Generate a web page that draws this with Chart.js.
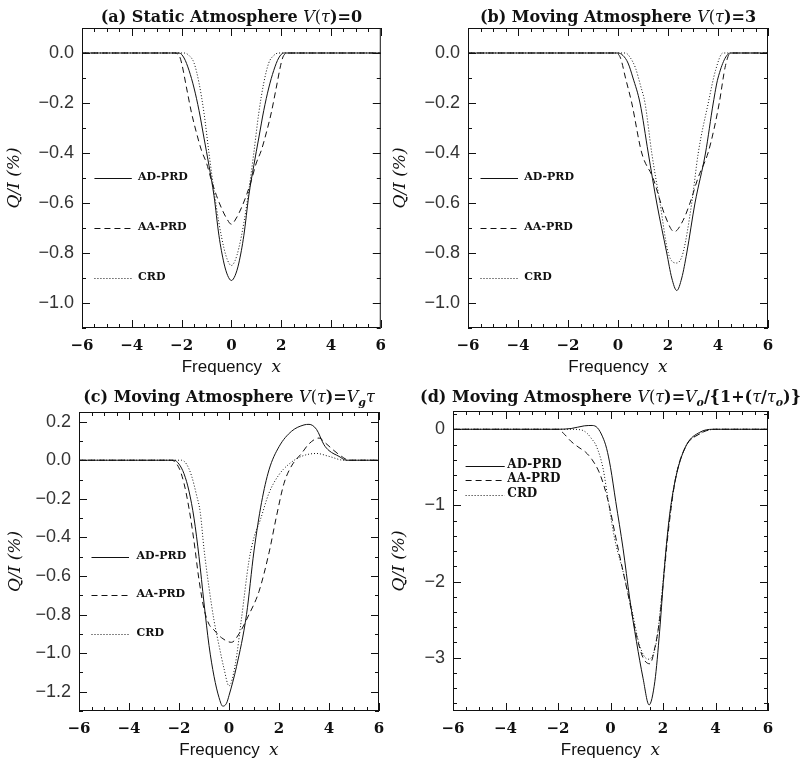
<!DOCTYPE html>
<html>
<head>
<title>Q/I profiles</title>
<script src="https://cdn.jsdelivr.net/npm/chart.js"></script>
<style>
    body { margin: 0; background: #fff; }
    #wrap { position: relative; width: 809px; height: 761px; overflow: hidden; }
    canvas { position: absolute; }
</style>
</head>
<body>
<div id="wrap">
    <canvas id="pa"></canvas>
    <canvas id="pb"></canvas>
    <canvas id="pc"></canvas>
    <canvas id="pd"></canvas>
</div>
<script>
// tick labels
const xTicks = [-6, -4, -2, 0, 2, 4, 6];
const yTicksAB = [0.0, -0.2, -0.4, -0.6, -0.8, -1.0];
const yTicksC = [0.2, 0.0, -0.2, -0.4, -0.6, -0.8, -1.0, -1.2];
const yTicksD = [0, -1, -2, -3];
const seriesNames = ['AD-PRD', 'AA-PRD', 'CRD'];

// (a) static atmosphere
const aAdX = [-6, -2.1, -1.9, -1.7, -1.5, -1.3, -1.1, -0.9, -0.7, -0.5, -0.3, -0.15, 0, 0.15, 0.3, 0.5, 0.7, 0.9, 1.1, 1.3, 1.5, 1.7, 1.9, 2.1, 6];
const aAdY = [0, 0, -0.02, -0.07, -0.14, -0.23, -0.34, -0.45, -0.57, -0.73, -0.84, -0.89, -0.91, -0.89, -0.84, -0.73, -0.57, -0.45, -0.34, -0.23, -0.14, -0.07, -0.02, 0, 0];
const aAaX = [-6, -2.3, -2.1, -2.0, -1.8, -1.6, -1.4, -1.2, -1.0, -0.8, -0.6, -0.4, -0.2, 0, 0.2, 0.4, 0.6, 0.8, 1.0, 1.2, 1.4, 1.6, 1.8, 2.0, 2.1, 2.3, 6];
const aAaY = [0, 0, -0.01, -0.04, -0.14, -0.24, -0.32, -0.39, -0.44, -0.51, -0.57, -0.62, -0.66, -0.685, -0.66, -0.62, -0.57, -0.51, -0.44, -0.39, -0.32, -0.24, -0.14, -0.04, -0.01, 0, 0];
const aCrdX = [-6, -1.9, -1.7, -1.5, -1.3, -1.1, -0.9, -0.7, -0.5, -0.3, -0.15, 0, 0.15, 0.3, 0.5, 0.7, 0.9, 1.1, 1.3, 1.5, 1.7, 1.9, 6];
const aCrdY = [0, 0, -0.01, -0.04, -0.12, -0.24, -0.40, -0.55, -0.68, -0.78, -0.83, -0.85, -0.83, -0.78, -0.68, -0.55, -0.40, -0.24, -0.12, -0.04, -0.01, 0, 0];

// (b) V = 3
const bAdX = [-6, 0.0, 0.2, 0.4, 0.6, 0.88, 1.21, 1.55, 1.95, 2.15, 2.35, 2.55, 2.75, 3.08, 3.5, 3.81, 4.0, 4.5, 6];
const bAdY = [0, 0, -0.01, -0.04, -0.1, -0.2, -0.4, -0.6, -0.8, -0.9, -0.95, -0.9, -0.8, -0.6, -0.4, -0.2, -0.1, 0, 0];
const bAaX = [-6, -0.1, 0.1, 0.3, 0.55, 0.95, 1.4, 1.88, 2.25, 2.6, 2.88, 3.2, 3.6, 3.85, 4.05, 4.3, 4.5, 6];
const bAaY = [0, 0, -0.02, -0.1, -0.2, -0.4, -0.5, -0.65, -0.715, -0.67, -0.6, -0.5, -0.4, -0.3, -0.2, -0.05, 0, 0];
const bCrdX = [-6, 0.3, 0.5, 0.7, 0.9, 1.08, 1.35, 1.68, 2.01, 2.35, 2.6, 2.95, 3.21, 3.61, 3.9, 4.2, 6];
const bCrdY = [0, 0, -0.02, -0.06, -0.13, -0.2, -0.4, -0.6, -0.8, -0.84, -0.8, -0.6, -0.4, -0.2, -0.07, 0, 0];

// (c) V = Vg tau
const cAdX = [-6, -2.2, -2.0, -1.8, -1.6, -1.4, -1.2, -1.0, -0.8, -0.6, -0.4, -0.25, -0.1, 0.0, 0.3, 0.7, 1.0, 1.3, 1.6, 2.0, 2.5, 3.0, 3.2, 3.5, 3.8, 4.0, 4.4, 4.7, 6];
const cAdY = [0, 0, -0.02, -0.07, -0.16, -0.30, -0.50, -0.74, -0.96, -1.12, -1.23, -1.275, -1.26, -1.22, -1.07, -0.80, -0.47, -0.22, -0.05, 0.07, 0.15, 0.183, 0.186, 0.16, 0.08, 0.05, 0.02, 0, 0];
const cAaX = [-6, -2.3, -2.0, -1.8, -1.6, -1.4, -1.2, -1.0, -0.8, -0.6, -0.3, 0.1, 0.4, 0.8, 1.2, 1.6, 1.9, 2.2, 2.5, 2.9, 3.2, 3.6, 3.85, 4.2, 4.5, 4.8, 6];
const cAaY = [0, 0, -0.04, -0.12, -0.25, -0.42, -0.62, -0.77, -0.85, -0.88, -0.92, -0.944, -0.90, -0.80, -0.68, -0.48, -0.29, -0.12, -0.03, 0.035, 0.085, 0.115, 0.09, 0.05, 0.02, 0, 0];
const cCrdX = [-6, -1.9, -1.7, -1.5, -1.3, -1.15, -1.0, -0.8, -0.6, -0.4, -0.2, 0.0, 0.25, 0.5, 0.8, 1.0, 1.25, 1.6, 2.0, 2.4, 2.9, 3.5, 4.0, 4.6, 6];
const cCrdY = [0, 0, -0.02, -0.08, -0.18, -0.27, -0.46, -0.66, -0.83, -0.96, -1.08, -1.17, -1.06, -0.82, -0.52, -0.40, -0.31, -0.17, -0.075, -0.02, 0.02, 0.035, 0.02, 0, 0];

// (d) V = V0/(1+tau/tau0)
const dAdX = [-6, -2.0, -1.5, -1.0, -0.7, -0.5, -0.3, -0.15, 0.0, 0.2, 0.48, 0.73, 0.99, 1.24, 1.47, 1.69, 1.87, 2.06, 2.25, 2.51, 2.89, 3.4, 3.9, 6];
const dAdY = [0, 0, 0.01, 0.045, 0.05, 0.02, -0.1, -0.25, -0.5, -0.95, -1.57, -2.22, -2.79, -3.27, -3.62, -3.31, -2.66, -1.79, -1.13, -0.60, -0.21, -0.04, 0, 0];
const dAaX = [-6, -2.0, -1.8, -1.5, -1.2, -0.95, -0.7, -0.45, -0.25, -0.05, 0.2, 0.48, 0.73, 0.99, 1.24, 1.5, 1.7, 1.87, 2.0, 2.2, 2.45, 2.83, 3.4, 4.0, 6];
const dAaY = [0, 0, -0.05, -0.16, -0.24, -0.30, -0.40, -0.55, -0.74, -1.0, -1.42, -1.87, -2.27, -2.71, -3.0, -3.08, -2.85, -2.5, -2.05, -1.35, -0.70, -0.25, -0.06, 0, 0];
const dCrdX = [-6, -1.5, -1.1, -0.9, -0.73, -0.54, -0.28, -0.1, 0.16, 0.48, 0.8, 1.11, 1.43, 1.75, 2.0, 2.19, 2.45, 2.83, 3.4, 4.0, 6];
const dCrdY = [0, 0, -0.01, -0.05, -0.12, -0.22, -0.52, -0.91, -1.44, -1.87, -2.35, -2.84, -3.02, -2.79, -2.0, -1.35, -0.69, -0.25, -0.06, 0, 0];

const dashes = [[], [6, 4], [1, 2]];
const SERIF = '"DejaVu Serif"';
const B = 'bold 16px ' + SERIF, I = 'italic 16px ' + SERIF, R = '16px ' + SERIF;
const SUB = 'italic bold 11px ' + SERIF;

const panels = [
    { id: 'pa', left: 0, top: 0, w: 395, h: 380, yw: 82, padTop: 28, padRight: 13, xh: 52,
      yMin: -1.1, yMax: 0.1, yTicks: yTicksAB, yMinor: 0.1, dec: 1, yTitleX: 15,
      legY: [-0.5, -0.7, -0.9], legX: [-5.5, -4.0], legTextX: -3.75, legSize: 11,
      title: [['(a) Static Atmosphere ', B], ['V', I], ['(', R], ['τ', I], [')=0', B]],
      series: [[aAdX, aAdY], [aAaX, aAaY], [aCrdX, aCrdY]] },
    { id: 'pb', left: 390, top: 0, w: 419, h: 380, yw: 78, padTop: 28, padRight: 41, xh: 52,
      yMin: -1.1, yMax: 0.1, yTicks: yTicksAB, yMinor: 0.1, dec: 1, yTitleX: 11,
      legY: [-0.5, -0.7, -0.9], legX: [-5.5, -4.0], legTextX: -3.75, legSize: 11,
      title: [['(b) Moving Atmosphere ', B], ['V', I], ['(', R], ['τ', I], [')=3', B]],
      series: [[bAdX, bAdY], [bAaX, bAaY], [bCrdX, bCrdY]] },
    { id: 'pc', left: 0, top: 380, w: 395, h: 381, yw: 79, padTop: 32, padRight: 16, xh: 50,
      yMin: -1.3, yMax: 0.25, yTicks: yTicksC, yMinor: 0.1, dec: 1, yTitleX: 16,
      legY: [-0.5, -0.7, -0.9], legX: [-5.5, -4.0], legTextX: -3.7, legSize: 11,
      title: [['(c) Moving Atmosphere ', B], ['V', I], ['(', R], ['τ', I], [')=', B], ['V', I], ['g', SUB, 4], ['τ', I]],
      series: [[cAdX, cAdY], [cAaX, cAaY], [cCrdX, cCrdY]] },
    { id: 'pd', left: 390, top: 380, w: 419, h: 381, yw: 63, padTop: 31, padRight: 41, xh: 50,
      yMin: -3.7, yMax: 0.24, yTicks: yTicksD, yMinor: 0.2, dec: 0, yTitleX: 10,
      legY: [-0.48, -0.66, -0.86], legX: [-5.52, -4.03], legTextX: -3.93, legSize: 12,
      title: [['(d) Moving Atmosphere ', B], ['V', I], ['(', R], ['τ', I], [')=', B], ['V', I], ['o', SUB, 4],
              ['/{1+(', B], ['τ', I], ['/', B], ['τ', I], ['o', SUB, 4], [')}', B]],
      series: [[dAdX, dAdY], [dAaX, dAaY], [dCrdX, dCrdY]] }
];

function fmt(v, dec) {
    return (v < 0 ? '\u2212' : '') + Math.abs(v).toFixed(dec);
}

function drawParts(ctx, parts, cx, y) {
    let total = 0;
    const widths = parts.map(p => { ctx.font = p[1]; const w = ctx.measureText(p[0]).width; total += w; return w; });
    let x = cx - total / 2;
    ctx.textAlign = 'left';
    ctx.textBaseline = 'alphabetic';
    parts.forEach((p, i) => {
        ctx.font = p[1];
        ctx.fillText(p[0], x, y + (p[2] || 0));
        x += widths[i];
    });
}

function boxPlugin(p) {
    return {
        id: 'box' + p.id,
        afterDatasetsDraw(chart) {
            const ctx = chart.ctx, a = chart.chartArea, xs = chart.scales.x, ys = chart.scales.y;
            ctx.save();
            ctx.strokeStyle = '#111';
            ctx.lineWidth = 1;
            ctx.setLineDash([]);
            ctx.strokeRect(a.left + 0.5, a.top + 0.5, a.right - a.left - 1, a.bottom - a.top - 1);

            // inward ticks on all four sides
            ctx.beginPath();
            for (let k = -12; k <= 12; k++) {
                const v = k * 0.5;
                const len = k % 4 === 0 ? 8 : 4;
                const px = Math.round(xs.getPixelForValue(v)) + 0.5;
                ctx.moveTo(px, a.bottom); ctx.lineTo(px, a.bottom - len);
                ctx.moveTo(px, a.top); ctx.lineTo(px, a.top + len);
            }
            const majorStep = p.yTicks[0] - p.yTicks[1];
            const n0 = Math.ceil(p.yMin / p.yMinor - 1e-6), n1 = Math.floor(p.yMax / p.yMinor + 1e-6);
            for (let k = n0; k <= n1; k++) {
                const v = k * p.yMinor;
                const r = v / majorStep;
                const len = Math.abs(r - Math.round(r)) < 1e-6 ? 8 : 4;
                const py = Math.round(ys.getPixelForValue(v)) + 0.5;
                ctx.moveTo(a.left, py); ctx.lineTo(a.left + len, py);
                ctx.moveTo(a.right, py); ctx.lineTo(a.right - len, py);
            }
            ctx.stroke();

            // legend inside the frame
            ctx.fillStyle = '#111';
            ctx.font = 'bold ' + p.legSize + 'px ' + SERIF;
            ctx.textAlign = 'left';
            ctx.textBaseline = 'alphabetic';
            seriesNames.forEach((name, i) => {
                const yy = Math.round(ys.getPixelForValue(p.legY[i])) + 0.5;
                ctx.setLineDash(dashes[i]);
                ctx.beginPath();
                ctx.moveTo(xs.getPixelForValue(p.legX[0]), yy);
                ctx.lineTo(xs.getPixelForValue(p.legX[1]), yy);
                ctx.stroke();
                ctx.fillText(name, xs.getPixelForValue(p.legTextX), yy + 1);
            });
            ctx.setLineDash([]);

            // titles
            const cx = (a.left + a.right) / 2;
            drawParts(ctx, p.title, cx, 22);
            drawParts(ctx, [['Frequency', '17px "Liberation Sans"'], ['  ', '17px "Liberation Sans"'], ['x', 'italic 17px ' + SERIF]], cx, a.bottom + 44);

            ctx.translate(p.yTitleX, (a.top + a.bottom) / 2);
            ctx.rotate(-Math.PI / 2);
            ctx.font = 'italic 17px ' + SERIF;
            ctx.textAlign = 'center';
            ctx.textBaseline = 'middle';
            ctx.fillText('Q/I (%)', 0, 0);
            ctx.restore();
        }
    };
}

panels.forEach(p => {
    const cv = document.getElementById(p.id);
    cv.width = p.w;
    cv.height = p.h;
    cv.style.left = p.left + 'px';
    cv.style.top = p.top + 'px';

    new Chart(cv, {
        type: 'line',
        data: {
            datasets: p.series.map((s, i) => ({
                label: seriesNames[i],
                data: s[0].map((xv, k) => ({ x: xv, y: s[1][k] })),
                borderColor: '#111',
                borderWidth: 1,
                borderDash: dashes[i],
                pointRadius: 0,
                cubicInterpolationMode: 'monotone',
                fill: false
            }))
        },
        options: {
            responsive: false,
            animation: false,
            layout: { padding: { top: p.padTop, right: p.padRight, left: 0, bottom: 0 } },
            plugins: { legend: { display: false }, tooltip: { enabled: false } },
            scales: {
                x: {
                    type: 'linear', min: -6, max: 6,
                    grid: { display: false, drawTicks: false },
                    border: { display: false },
                    afterBuildTicks: s => { s.ticks = xTicks.map(v => ({ value: v })); },
                    afterFit: s => { s.height = p.xh; },
                    ticks: {
                        padding: 9, autoSkip: false, maxRotation: 0, color: '#111',
                        font: { family: 'DejaVu Serif', weight: 'bold', size: 15 },
                        callback: v => fmt(v, 0)
                    }
                },
                y: {
                    type: 'linear', min: p.yMin, max: p.yMax,
                    grid: { display: false, drawTicks: false },
                    border: { display: false },
                    afterBuildTicks: s => { s.ticks = p.yTicks.map(v => ({ value: v })); },
                    afterFit: s => { s.width = p.yw; },
                    ticks: {
                        padding: 8, autoSkip: false, color: '#333',
                        font: { family: 'Liberation Sans', size: 18 },
                        callback: v => fmt(v, p.dec)
                    }
                }
            }
        },
        plugins: [boxPlugin(p)]
    });
});
</script>
</body>
</html>
